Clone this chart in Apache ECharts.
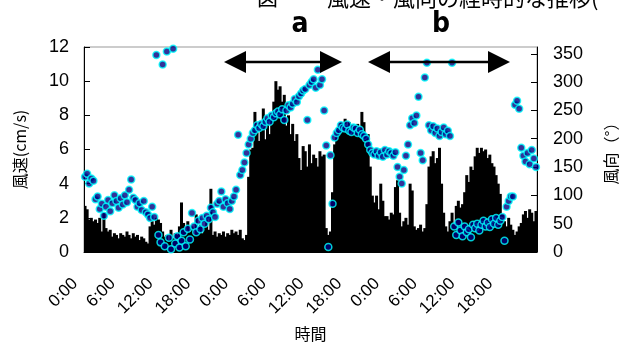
<!DOCTYPE html>
<html><head><meta charset="utf-8">
<script src="https://cdn.jsdelivr.net/npm/echarts@6/dist/echarts.min.js"></script>
<style>html,body{margin:0;padding:0;background:#fff}#c{width:627px;height:347px}</style>
</head><body><div id="c"></div>
<script>
// x tick labels, one every 6 h (every 18 samples)
const tickLabels = ['0:00','6:00','12:00','18:00','0:00','6:00','12:00','18:00','0:00','6:00','12:00','18:00'];
const samplesPerTick = 18; // 20-minute samples
// wind speed (cm/s), every 20 min, 72 h
const windSpeed = [
 2.7,2.5,1.9, 2.0,1.8,1.9, 1.7,2.0,1.2, 2.3,1.4,1.2, 1.3,0.9,1.1, 1.0,0.8,1.1,
 1.0,0.9,1.2, 1.0,0.8,1.1, 0.9,1.0,0.7, 0.9,0.8,0.6, 0.5,1.5,1.8, 1.6,2.0,1.9,
 1.7,1.2,0.9, 1.0,0.7,1.3, 0.8,1.1,1.0, 1.5,2.9,1.7, 1.3,1.8,1.2, 1.5,1.0,2.2,
 1.4,1.6,1.1, 1.5,2.0,1.3, 3.7,1.0,1.2, 0.9,1.1,1.0, 1.2,0.9,1.1, 1.0,1.3,1.1,
 1.2,1.0,1.3, 0.8,0.7,1.0, 4.4,6.0,6.1, 8.2,7.0,6.5, 7.2,8.4,6.6, 7.5,6.9,7.8,
 8.8,10.0,9.5, 9.7,8.8,9.2, 7.4,8.0,6.9, 7.5,6.5,6.9, 5.5,4.8,6.2, 5.9,5.0,6.3,
 5.2,5.7,5.5, 5.0,5.9,5.6, 5.7,1.4,1.0, 1.2,3.5,6.3, 7.1,7.3,7.6, 7.2,7.8,7.4,
 7.6,6.9,7.3, 7.0,7.5,7.2, 8.2,7.6,6.9, 6.9,5.0,3.3, 2.9,3.3,2.5, 4.0,3.0,2.1,
 2.1,1.9,2.3, 2.2,3.8,4.2, 2.3,1.5,1.8, 2.0,1.6,4.0, 3.6,1.5,1.3, 1.4,1.6,1.2,
 1.4,2.8,5.0, 5.6,5.9,5.2, 5.5,6.1,4.0, 2.3,1.5,1.2, 1.8,2.3,1.6, 2.7,3.0,2.6,
 2.8,3.5,4.5, 4.1,5.0,4.8, 5.6,6.1,5.8, 6.1,5.9,6.0, 5.5,5.7,5.2, 5.0,4.5,4.0,
 3.4,2.2,1.8, 1.5,2.0,1.6, 1.3,1.0,1.2, 1.5,1.7,2.2, 2.4,2.0,2.5, 2.3,1.8,2.4
];
// wind direction (degrees), every 20 min, 72 h
const windDir = [
 133,138,121, 130,126,93, 98,76,85, 64,80,92, 72,86,100, 90,78,95,
 84,100,88, 110,128,96, 92,80,86, 74,90,70, 66,60,80, 62,348,30,
 17,331,10, 354,25,5, 359,15,28, 8,20,35, 10,41,22, 69,45,35,
 55,40,60, 50,64,58, 78,70,62, 85,90,107, 80,93,86, 76,90,98,
 110,207,136, 145,158,175, 190,200,210, 215,224,219, 226,222,230, 236,230,241,
 238,245,248, 243,252,233, 250,259,255, 262,270,265, 275,280,285, 288,233,295,
 300,305,290, 322,295,305, 250,188,9, 171,85,202, 210,215,224, 220,218,225,
 214,212,220, 218,210,216, 208,205,200, 190,180,175, 172,178,170, 176,168,180,
 172,178,175, 170,176,150, 133,121,145, 170,190,224, 236,228,241, 274,175,162,
 308,334,224, 215,222,210, 218,205,212, 220,208,214, 205,334,45, 30,52,38,
 28,45,35, 40,26,48, 42,50,38, 48,55,45, 52,44,58, 50,60,48,
 55,62,20, 80,90,98, 98,260,267, 253,184,170, 160,175,155, 180,165,150
];
const speedTicks = [0,2,4,6,8,10,12];
const dirTicks = [0,50,100,150,200,250,300,350];

const categories = windSpeed.map((_, i) => i % samplesPerTick === 0 ? tickLabels[i / samplesPerTick] : 's' + i);
const chart = echarts.init(document.getElementById('c'));
const font = "'Liberation Sans', Arial, sans-serif";
const cjk = "'Noto Sans CJK JP', sans-serif";
const narrow = "'Liberation Sans Narrow','DejaVu Sans Condensed',sans-serif";

chart.setOption({
  animation:false,
  backgroundColor:'#fff',
  grid:{left:84,right:75,top:47,bottom:90,show:true,borderColor:'#999',borderWidth:1},
  xAxis:{type:'category',data:categories,boundaryGap:true,
    name:'時間',nameLocation:'middle',nameGap:74,
    nameTextStyle:{fontSize:16,color:'#000',fontFamily:cjk},
    axisLine:{show:true,lineStyle:{color:'#000'}},axisTick:{show:false},splitLine:{show:false},
    axisLabel:{show:false}},
  yAxis:[
    {type:'value',min:0,max:12,interval:2,position:'left',
     name:'風速(cm/s)',nameLocation:'middle',nameGap:56,nameRotate:90,
     nameTextStyle:{fontSize:16,color:'#000',fontFamily:cjk},
     axisLine:{show:true,lineStyle:{color:'#000'}},
     axisTick:{show:true,inside:true,length:6,lineStyle:{color:'#000'}},
     splitLine:{show:false},
     axisLabel:{fontSize:18,color:'#000',margin:15,fontFamily:font,
       formatter:v=>speedTicks.includes(v)?String(v):''}},
    {type:'value',min:0,max:362,interval:50,position:'right',
     name:'風向（°）',nameLocation:'middle',nameGap:66,nameRotate:90,
     nameTextStyle:{fontSize:16,color:'#000',fontFamily:cjk},
     axisLine:{show:true,lineStyle:{color:'#000'}},
     axisTick:{show:true,inside:true,length:6,lineStyle:{color:'#000'}},
     splitLine:{show:false},
     axisLabel:{fontSize:18,color:'#000',margin:16,fontFamily:font,showMaxLabel:false,
       formatter:v=>dirTicks.includes(v)?String(v):''}}
  ],
  series:[
    {type:'bar',name:'風速',data:windSpeed,xAxisIndex:0,yAxisIndex:0,barWidth:3,
     itemStyle:{color:'#000'},z:2},
    {type:'scatter',name:'風向',data:windDir,xAxisIndex:0,yAxisIndex:1,symbolSize:7,
     itemStyle:{color:'#000080',borderColor:'#00ffff',borderWidth:1.5},z:3}
  ]
});

// rotated x tick labels placed at the category axis positions
const axisY = chart.convertToPixel({yAxisIndex:0}, 0);
const tickTexts = tickLabels.map((t, k) => {
  const x = chart.convertToPixel({xAxisIndex:0}, k * samplesPerTick);
  return {type:'text', id:'xt'+k, x:x-10, y:axisY+29, rotation:Math.PI/4, z:10,
    style:{text:t, fontSize:17, fill:'#000', align:'right', verticalAlign:'middle', fontFamily:font}};
});

chart.setOption({graphic:[
  {type:'text',id:'title0',left:257,top:-13,z:10,style:{text:'図',fontSize:21,fill:'#000',fontFamily:cjk}},
  {type:'text',id:'title1',left:327,top:-13,z:10,style:{text:'風速・風向の経時的な推移(',fontSize:22,fill:'#000',fontFamily:cjk}},
  {type:'text',id:'la',x:300,y:25,z:10,style:{text:'a',fontSize:28,fontWeight:'bold',fill:'#000',align:'center',verticalAlign:'middle',fontFamily:narrow}},
  {type:'text',id:'lb',x:441,y:25,z:10,style:{text:'b',fontSize:28,fontWeight:'bold',fill:'#000',align:'center',verticalAlign:'middle',fontFamily:narrow}},
  {type:'line',id:'a1',z:10,shape:{x1:244,y1:62,x2:322,y2:62},style:{stroke:'#000',lineWidth:2.5}},
  {type:'polygon',id:'a2',z:10,shape:{points:[[224,62],[246,51],[246,73]]},style:{fill:'#000'}},
  {type:'polygon',id:'a3',z:10,shape:{points:[[342,62],[320,51],[320,73]]},style:{fill:'#000'}},
  {type:'line',id:'b1',z:10,shape:{x1:388,y1:62,x2:490,y2:62},style:{stroke:'#000',lineWidth:2.5}},
  {type:'polygon',id:'b2',z:10,shape:{points:[[368,62],[390,51],[390,73]]},style:{fill:'#000'}},
  {type:'polygon',id:'b3',z:10,shape:{points:[[510,62],[488,51],[488,73]]},style:{fill:'#000'}}
].concat(tickTexts)});
</script></body></html>
